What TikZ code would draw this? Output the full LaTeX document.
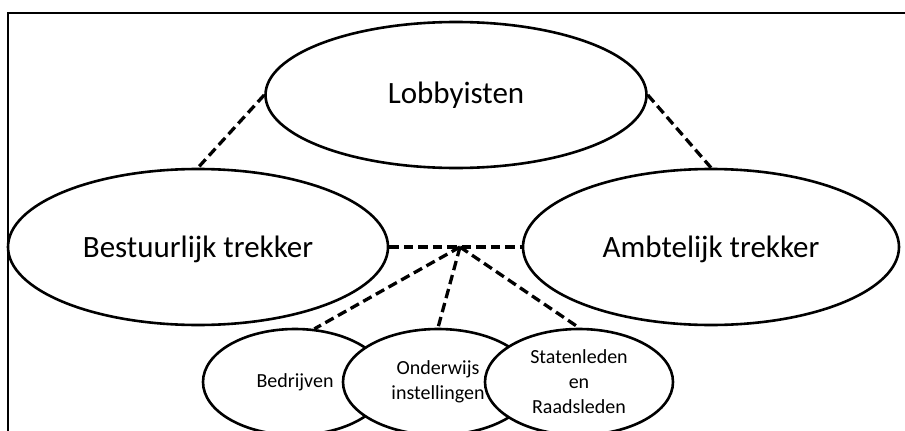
\documentclass[tikz,border=0pt]{standalone}
\usepackage{fontspec}
\setmainfont{Carlito}
\usetikzlibrary{shapes.geometric}
\begin{document}
\begin{tikzpicture}[x=1pt,y=-1pt,
  oval/.style={draw=black, fill=white, ellipse, line width=2.6pt, inner sep=0pt, align=center},
  bigoval/.style={oval, font=\fontsize{31}{37}\selectfont},
  smalloval/.style={oval, font=\fontsize{20}{25}\selectfont},
  link/.style={line width=3.3pt, dash pattern=on 9.5pt off 5pt},
  frameline/.style={line width=2.2pt}]
\useasboundingbox (0,0) rectangle (905,431);
\coordinate (fa) at (8,431);
\coordinate (fb) at (8,13);
\coordinate (fc) at (905,13);
\draw[frameline] (fa) -- (fb) -- (fc);

\node[bigoval, minimum width=381pt, minimum height=146pt] (lob) at (456,95) {Lobbyisten};
\node[bigoval, minimum width=380pt, minimum height=156pt, text depth=0pt] (best) at (198,247) {Bestuurlijk trekker};
\node[bigoval, minimum width=376pt, minimum height=156pt, text depth=0pt] (amb) at (711,247) {Ambtelijk trekker};

\coordinate (hub) at (460,247);

\draw[link] (lob.west) -- (best.north);
\draw[link] (lob.east) -- (amb.north);
\draw[link] (best.east) -- (amb.west);

\node[smalloval, minimum width=184pt, minimum height=106pt] (bed) at (295,382) {Bedrijven};
\node[smalloval, minimum width=190pt, minimum height=106pt] (ond) at (438,382) {Onderwijs\\instellingen};
\node[smalloval, minimum width=188pt, minimum height=106pt] (stat) at (579,382) {Statenleden\\en\\Raadsleden};

\draw[link] (hub) -- (bed.70);
\draw[link] (hub) -- (ond.north);
\draw[link] (hub) -- (stat.north);
\end{tikzpicture}
\end{document}
